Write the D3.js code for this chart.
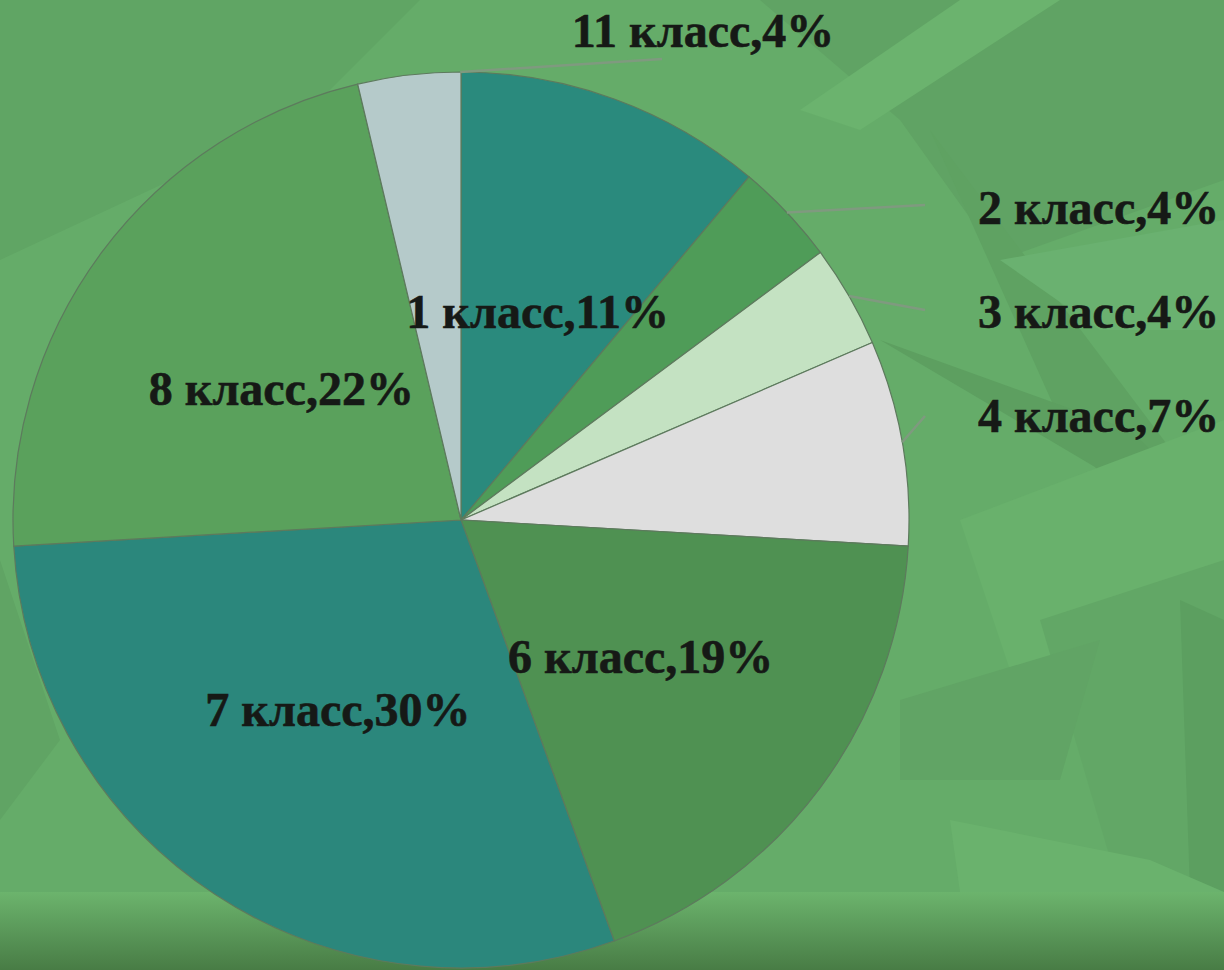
<!DOCTYPE html>
<html><head><meta charset="utf-8">
<script src="https://cdn.jsdelivr.net/npm/d3@7"></script>
<style>html,body{margin:0;padding:0;overflow:hidden;background:#66ad6a}</style>
</head><body>
<svg id="c" width="1224" height="970"></svg>
<script>
const categories = ["1 класс","2 класс","3 класс","4 класс","6 класс","7 класс","8 класс","11 класс"];
const counts = [3,1,1,2,5,8,6,1];
const colors = ["#2a8a7d","#4f9c58","#c4e2c2","#dedede","#4f9152","#2b877c","#5aa15c","#b5caca"];
const outside = ["2 класс","3 класс","4 класс","11 класс"];

const W=1224,H=970;
const svg=d3.select("#c");
const defs=svg.append("defs");
const g1=defs.append("linearGradient").attr("id","band").attr("x1",0).attr("y1",0).attr("x2",0).attr("y2",1);
g1.append("stop").attr("offset","0").attr("stop-color","#6cb46d");
g1.append("stop").attr("offset","1").attr("stop-color","#487c45");

// background
svg.append("rect").attr("width",W).attr("height",H).attr("fill","#65ac69");
const leaves=[
 {p:"M0,0 L420,0 L300,120 L0,260Z",c:"#60a564"},
 {p:"M760,0 L1224,0 L1224,180 L1000,260 L900,120Z",c:"#60a364"},
 {p:"M800,110 L960,0 L1060,0 L860,130Z",c:"#6bb36e"},
 {p:"M930,130 L1224,520 L1224,640 L1060,420Z",c:"#5fa262"},
 {p:"M1000,260 L1224,220 L1224,330 L1100,330Z",c:"#6ab170"},
 {p:"M880,340 L1130,430 L1224,520 L1100,470Z",c:"#5d9f60"},
 {p:"M960,520 L1224,420 L1224,600 L1020,700Z",c:"#69b16c"},
 {p:"M1040,620 L1224,560 L1224,892 L1120,892Z",c:"#62a766"},
 {p:"M1180,600 L1224,620 L1224,892 L1190,892Z",c:"#5c9f60"},
 {p:"M900,700 L1100,640 L1060,780 L900,780Z",c:"#61a465"},
 {p:"M0,560 L60,740 L0,820Z",c:"#60a464"},
 {p:"M950,820 L1150,860 L1224,892 L960,892Z",c:"#6ab26d"}
];
svg.selectAll("path.leaf").data(leaves).join("path").attr("class","leaf").attr("d",d=>d.p).attr("fill",d=>d.c);
svg.append("rect").attr("x",0).attr("y",892).attr("width",W).attr("height",H-892).attr("fill","url(#band)");

const cx=461,cy=520,R=448;
const total=d3.sum(counts);
const data=categories.map((c,i)=>({cat:c,v:counts[i],col:colors[i],pct:Math.round(counts[i]/total*100)}));
const pie=d3.pie().value(d=>d.v).sort(null);
const arcs=pie(data);
const arc=d3.arc().innerRadius(0).outerRadius(R);
const g=svg.append("g").attr("transform",`translate(${cx},${cy})`);
g.selectAll("path.s").data(arcs).join("path").attr("class","s")
 .attr("d",arc).attr("fill",d=>d.data.col).attr("stroke","#5d7a5d").attr("stroke-width",1.2);

const font="'Liberation Serif','Times New Roman',serif";
const FS=48;
// inside labels
g.selectAll("text.in").data(arcs.filter(d=>!outside.includes(d.data.cat))).join("text").attr("class","in")
 .attr("transform",d=>{const c=arc.centroid(d);return `translate(${c[0]},${c[1]+2})`;})
 .attr("text-anchor","middle").attr("dy","0.35em")
 .attr("font-family",font).attr("font-weight","bold").attr("font-size",FS).attr("fill","#161916")
 .attr("stroke","#161916").attr("stroke-width",0.6)
 .text(d=>`${d.data.cat},${d.data.pct}%`);

// outside labels
const outPos={"2 класс":[978,224,"start",[925,205]],"3 класс":[978,328,"start",[925,310]],"4 класс":[978,432,"start",[925,416]],"11 класс":[703,47,"middle",[662,59]]};
arcs.filter(d=>outside.includes(d.data.cat)).forEach(d=>{
  const p=outPos[d.data.cat];
  let a=(d.startAngle+d.endAngle)/2;
  if(d.data.cat==="11 класс") a=d.endAngle-0.002;
  const sx=Math.sin(a)*R, sy=-Math.cos(a)*R;
  g.append("line").attr("x1",sx).attr("y1",sy).attr("x2",p[3][0]-cx).attr("y2",p[3][1]-cy)
   .attr("stroke","#7f9a7f").attr("stroke-width",2.5);
  svg.append("text").attr("x",p[0]).attr("y",p[1]).attr("text-anchor",p[2])
   .attr("font-family",font).attr("font-weight","bold").attr("font-size",FS).attr("fill","#161916")
   .attr("stroke","#161916").attr("stroke-width",0.6)
   .text(`${d.data.cat},${d.data.pct}%`);
});
</script>
</body></html>
